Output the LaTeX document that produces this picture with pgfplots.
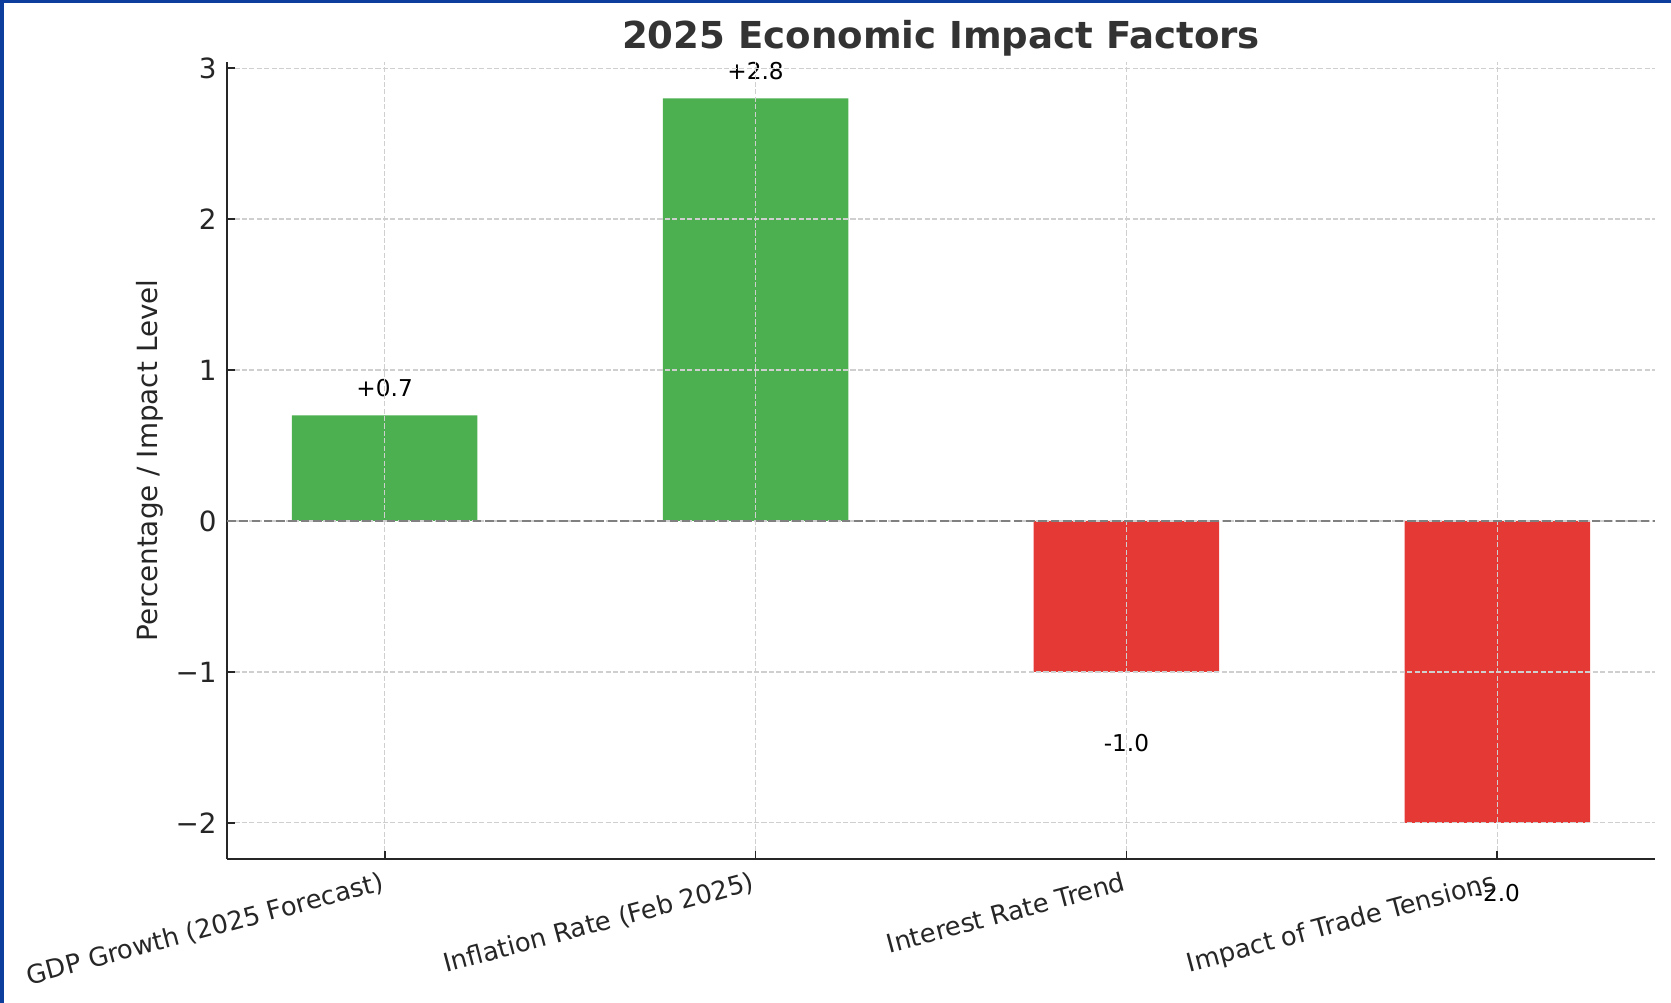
\documentclass[border=0pt]{standalone}
\usepackage{pgfplots}
\pgfplotsset{compat=1.18}
\usepackage{fontspec}
\setmainfont{DejaVu Sans}
\definecolor{barGreen}{HTML}{4CAF50}
\definecolor{barRed}{HTML}{E53935}
\definecolor{frameBlue}{RGB}{13,62,158}
\definecolor{titleGray}{HTML}{333333}
\definecolor{gridGray}{HTML}{CFCFCF}
\definecolor{zeroGray}{HTML}{808080}
\begin{document}
\begin{tikzpicture}
\begin{axis}[
  at={(97.87pt,62.08pt)}, anchor=south west,
  scale only axis, width=615.66pt, height=343.5pt,
  xmin=-0.425, xmax=3.425, ymin=-2.24, ymax=3.04,
  axis x line*=bottom, axis y line*=left,
  axis line style={line width=1pt, black!85, -},
  xtick={0,1,2,3},
  xticklabels={GDP Growth (2025 Forecast), Inflation Rate (Feb 2025), Interest Rate Trend, Impact of Trade Tensions},
  ytick={-2,-1,0,1,2,3},
  yticklabels={−2,−1,0,1,2,3},
  tick align=inside, major tick length=3.5pt,
  tick style={line width=0.8pt, black!85},
  xticklabel style={font=\fontsize{11.1}{13}\selectfont, text=black!85, rotate=15, anchor=north east, inner sep=0pt, xshift=-3.2pt, yshift=-4.3pt},
  yticklabel style={font=\fontsize{12}{14}\selectfont, text=black!85, anchor=east, inner sep=0pt, xshift=-4.3pt},
  grid=major,
  major grid style={gridGray, line width=0.6pt, dash pattern=on 2.2pt off 1pt},
  title={2025 Economic Impact Factors},
  title style={font=\fontsize{16}{19}\selectfont\bfseries, text=titleGray, at={(axis description cs:0.5,1)}, anchor=base, yshift=-0.1pt, inner sep=0pt},
  ylabel={Percentage / Impact Level},
  ylabel style={font=\fontsize{12}{14}\selectfont, text=black!85, at={(axis description cs:-0.0539,0.5)}, anchor=center, inner sep=0pt},
  axis on top, clip=false,
]
\addplot[ybar, bar width=0.5, bar shift=0pt, fill=barGreen, draw=none] coordinates {(0,0.7) (1,2.8)};
\addplot[ybar, bar width=0.5, bar shift=0pt, fill=barRed, draw=none] coordinates {(2,-1) (3,-2)};
\coordinate (z0) at (axis cs:-0.425,0);
\coordinate (z1) at (axis cs:3.425,0);
\node[font=\fontsize{10}{12}\selectfont, anchor=base] at (axis cs:0,0.828) {+0.7};
\node[font=\fontsize{10}{12}\selectfont, anchor=base] at (axis cs:1,2.928) {+2.8};
\node[font=\fontsize{10}{12}\selectfont, anchor=base] at (axis cs:2,-1.527) {-1.0};
\node[font=\fontsize{10}{12}\selectfont, anchor=base] at (axis cs:3,-2.519) {-2.0};
\end{axis}
\draw[zeroGray, line width=0.9pt, dash pattern=on 3.7pt off 1.6pt] (z0) -- (z1);
\fill[frameBlue] (0pt,431.14pt) rectangle (720.43pt,432.43pt);
\fill[frameBlue] (0pt,0pt) rectangle (1.72pt,432.43pt);
\pgfresetboundingbox
\useasboundingbox (0pt,0pt) rectangle (720.43pt,432.43pt);
\end{tikzpicture}
\end{document}
